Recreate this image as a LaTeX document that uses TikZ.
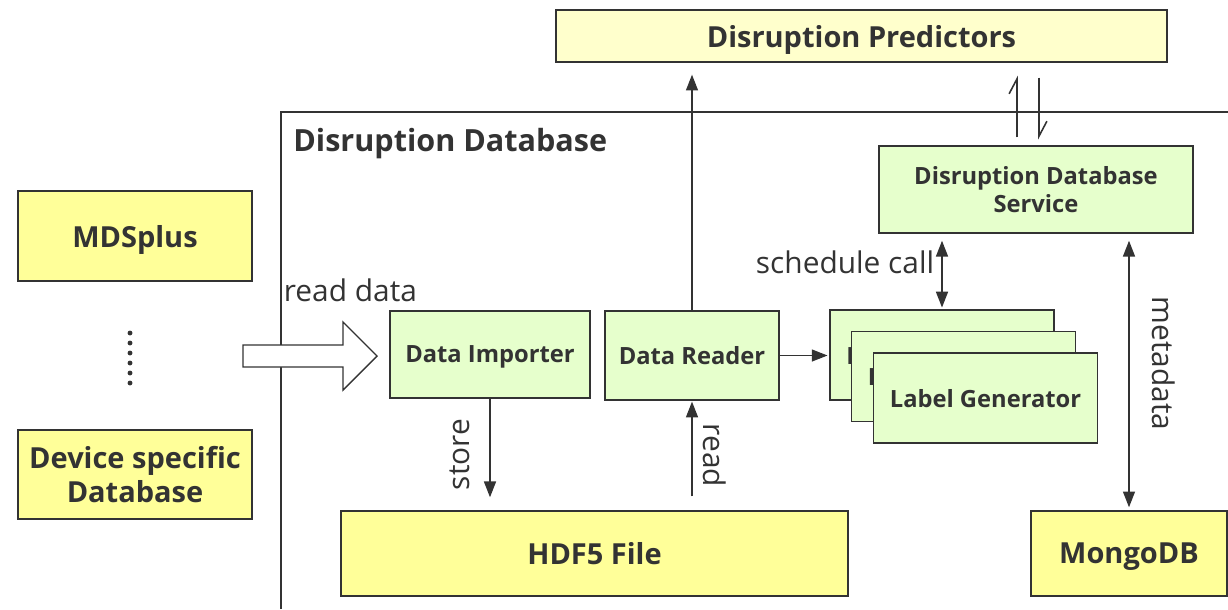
\documentclass[tikz,border=0pt]{standalone}
\usepackage{fontspec}
\setmainfont{Open Sans}
\usetikzlibrary{arrows.meta,positioning,calc}
\definecolor{Ink}{HTML}{333333}
\definecolor{Sand}{HTML}{FFFF99}
\definecolor{Cream}{HTML}{FFFFCC}
\definecolor{Mint}{HTML}{E6FFCC}

\begin{document}
\begin{tikzpicture}[
    x=0.02cm, y=-0.02cm,
    box/.style={draw=Ink,line width=0.8pt,text=Ink,inner sep=0pt,align=center,text depth=0pt},
    yel/.style={box,fill=Sand,font=\fontsize{16.5}{19.8}\selectfont\bfseries},
    grn/.style={box,fill=Mint,font=\fontsize{13.5}{15.5}\selectfont\bfseries},
    arr/.style={-{Triangle[length=9pt,width=6.8pt]},Ink,line width=0.9pt},
    dbl/.style={{Triangle[length=9pt,width=6.8pt]}-{Triangle[length=9pt,width=6.8pt]},Ink,line width=0.9pt},
    harp/.style={-{Straight Barb[harpoon,length=8.5pt,width=9pt]},Ink,line width=0.9pt},
    lbl/.style={text=Ink,font=\fontsize{17}{20}\selectfont,inner sep=2pt}
  ]
    \useasboundingbox (0,0) rectangle (1228,609);
    % predictors on top, database frame
    \node[box,fill=Cream,font=\fontsize{16.5}{19.8}\selectfont\bfseries,
      minimum width=12.22cm,minimum height=1.04cm] (pred) at (861.5,36) {Disruption Predictors};
    \draw[Ink,line width=0.8pt] (281,609) -- (281,112) -- (1228,112);
    \node[anchor=base west,text=Ink,font=\fontsize{17.4}{20}\selectfont\bfseries,inner sep=0pt]
      (dbtitle) at (293,151) {Disruption Database};

    % data sources
    \node[yel,minimum width=4.68cm,minimum height=1.8cm] (mds) at (135,236) {MDSplus};
    \node[yel,minimum width=4.68cm,minimum height=1.78cm] (dev) at (135,474.5) {Device specific\\Database};
    \foreach \k in {0,...,5}
      \fill[Ink] (130,{333+10*\k}) circle (1.4pt);

    % modules
    \node[grn,minimum width=4cm,minimum height=1.74cm] (imp) at (490,354.5) {Data Importer};
    \node[grn,minimum width=3.48cm,minimum height=1.78cm] (rdr) at (692,355.5) {Data Reader};
    \node[grn,minimum width=4.48cm,minimum height=1.8cm] (lg1) at (942,355) {Label Generator};
    \node[grn,minimum width=4.48cm,minimum height=1.8cm] (lg2) at ([shift={(21.5,21.5)}]lg1) {Label Generator};
    \node[grn,minimum width=4.48cm,minimum height=1.8cm] (lg3) at ([shift={(22,21.5)}]lg2) {Label Generator};
    \node[grn,minimum width=6.28cm,minimum height=1.74cm] (dds) at (1036,189.5) {Disruption Database\\Service};
    \node[yel,minimum width=10.14cm,minimum height=1.7cm] (hdf) at (594.5,553.5) {HDF5 File};
    \node[yel,minimum width=3.92cm,minimum height=1.7cm] (mongo) at (1129,553.5) {MongoDB};

    % import arrow
    \draw[Ink,fill=white,line width=0.8pt] (243,345) -- (343,345) -- (343,322) -- (377,356)
      -- (343,390) -- (343,367) -- (243,367) -- cycle;
    \node[lbl,anchor=west] (rdlbl) at (280,290) {read data};

    % connectors
    \draw[arr,shorten >=6.8pt] (rdr.north) -- (rdr.north |- pred.south);
    \draw[arr,shorten >=7.4pt] (imp.south) -- (imp.south |- hdf.north)
      node[lbl,midway,xshift=-11.3pt,rotate=90,anchor=south,inner sep=0pt] {store};
    \draw[arr,shorten <=8pt,shorten >=0.5pt] (rdr.south |- hdf.north) -- (rdr.south)
      node[lbl,midway,xshift=6.2pt,rotate=-90,anchor=south,inner sep=0pt] {read};
    \draw[arr,shorten >=1pt] (rdr.east) -- (rdr.east -| lg1.west);
    \draw[dbl,shorten <=1pt,shorten >=4pt] (lg1.north) -- (lg1.north |- dds.south)
      node[lbl,pos=.62,left=2pt] {schedule call};
    \draw[dbl,shorten <=1.7pt,shorten >=4pt] (mongo.north) -- (mongo.north |- dds.south)
      node[lbl,pos=.53,xshift=12.5pt,rotate=-90,anchor=south,inner sep=0pt] {metadata};
    \draw[harp,shorten <=4.5pt,shorten >=7.4pt] ([xshift=-0.38cm]dds.north) -- ([xshift=-0.38cm]dds.north |- pred.south);
    \draw[harp,shorten <=8.5pt,shorten >=3.4pt] ([xshift=0.06cm]dds.north |- pred.south) -- ([xshift=0.06cm]dds.north);
  \end{tikzpicture}
\end{document}
